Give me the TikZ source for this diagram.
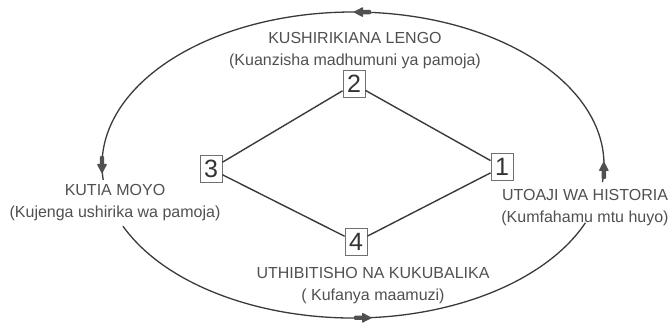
\documentclass[tikz,border=0pt]{standalone}
\usepackage{fontspec}
\setmainfont{Liberation Sans}
\definecolor{txtgray}{HTML}{505050}
\definecolor{boxgray}{HTML}{707070}
\definecolor{numgray}{HTML}{333333}
\definecolor{linegray}{HTML}{3A3A3A}
\definecolor{arrowgray}{HTML}{505050}
\begin{document}
\begin{tikzpicture}[x=1pt,y=1pt,
  lbl/.style={text=txtgray, font=\fontsize{16}{22}\selectfont, align=center, inner sep=0pt},
  numbox/.style={draw=boxgray, line width=0.9pt, fill=white, text=numgray,
    font=\fontsize{25}{25}\selectfont, minimum width=22pt, minimum height=27pt, inner sep=0pt},
  link/.style={draw=linegray, line width=1.4pt},
  cyc/.style={draw=linegray, line width=1.3pt},
  fatarrow/.pic={
    \fill[arrowgray, rounded corners=1pt] (-10,-2.2) rectangle (0,2.2);
    \fill[arrowgray, rounded corners=0.8pt] (-2,-5.2) -- (8,0) -- (-2,5.2) -- cycle;}
]
\useasboundingbox (0,0) rectangle (672,326);
% cycle arcs
\draw[cyc] ([shift={(353,161)}]-6.4:251 and 153) arc[start angle=-6.4, end angle=185.6, x radius=251, y radius=153];
\draw[cyc] ([shift={(353,161)}]203.6:251 and 153) arc[start angle=203.6, end angle=337.8, x radius=251, y radius=153];
% markers
\pic[rotate=180] at (361.1,313.9) {fatarrow};
\pic[rotate=270] at (102.0,160.0) {fatarrow};
\pic[rotate=90] at (603.8,157.0) {fatarrow};
\pic[rotate=0] at (364.1,8.2) {fatarrow};
% labels
\node[lbl] (ltop) at (355,275) {KUSHIRIKIANA LENGO\\(Kuanzisha madhumuni ya pamoja)};
\node[lbl] (lleft) at (115,123) {KUTIA MOYO\\(Kujenga ushirika wa pamoja)};
\node[lbl] (lright) at (585,118) {UTOAJI WA HISTORIA\\(Kumfahamu mtu huyo)};
\node[lbl] (lbot) at (373,40) {UTHIBITISHO NA KUKUBALIKA\\( Kufanya maamuzi)};
% number boxes
\node[numbox] (n1) at (502,159) {1};
\node[numbox] (n2) at (354,242) {2};
\node[numbox] (n3) at (211,157) {3};
\node[numbox] (n4) at (356,84) {4};
\draw[link] (n2) -- (n1);
\draw[link] (n2) -- (n3);
\draw[link] (n3) -- (n4);
\draw[link] (n4) -- (n1);
\end{tikzpicture}
\end{document}
